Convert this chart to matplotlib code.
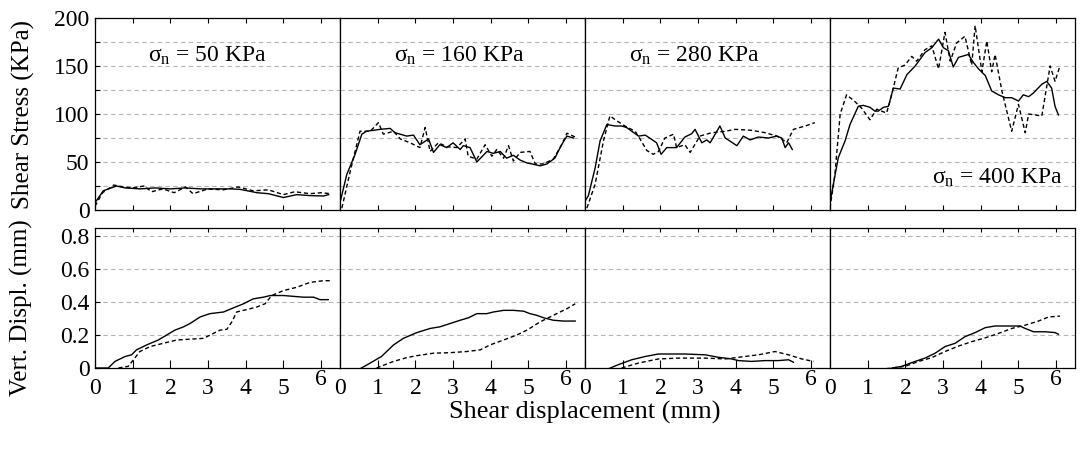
import matplotlib
matplotlib.use('Agg')
import matplotlib.pyplot as plt
from matplotlib.ticker import MultipleLocator, FixedLocator, FixedFormatter

plt.rcParams['font.family'] = ['Liberation Serif', 'DejaVu Serif']
plt.rcParams['mathtext.fontset'] = 'custom'
plt.rcParams['mathtext.rm'] = 'Liberation Serif'
plt.rcParams['mathtext.it'] = 'Liberation Serif:italic'

# ---------------- data ----------------
normal_stress = [50, 160, 280, 400]          # KPa
xtick_labels = ['0', '1', '2', '3', '4', '5', '6']

# Shear stress (KPa) vs shear displacement (mm); a = solid, b = dashed
tau50_a_x = [0, 0.22, 0.57, 0.8, 1.2, 1.6, 2.0, 2.4, 2.8, 3.2, 3.6, 3.85, 4.3, 4.6, 5.0, 5.35, 5.7, 6.06, 6.2]
tau50_a_y = [7.6, 20, 25, 23, 22, 23, 22, 23, 22, 22, 22, 21.5, 18, 17, 13, 16, 15, 14.6, 16]
tau50_b_x = [0, 0.2, 0.5, 0.75, 1.0, 1.3, 1.5, 1.8, 2.1, 2.4, 2.6, 3.0, 3.4, 3.8, 4.2, 4.6, 5.0, 5.3, 5.7, 6.0, 6.25]
tau50_b_y = [4, 18, 26, 24, 23, 25, 19, 22, 18, 24, 17, 22, 21, 24, 20, 21, 16, 19, 17, 18, 17]

tau160_a_x = [0, 0.18, 0.4, 0.58, 0.7, 1.06, 1.33, 1.46, 1.77, 1.95, 2.12, 2.35, 2.48, 2.65, 2.83, 3.0, 3.19,
              3.27, 3.45, 3.63, 3.9, 4.07, 4.25, 4.42, 4.6, 4.78, 4.96, 5.09, 5.31, 5.49, 5.7, 5.88, 6.02, 6.19]
tau160_a_y = [7.6, 37, 58, 79, 82, 84, 85, 80.5, 77, 78, 68, 74, 60, 68, 65, 70, 63,
              67, 65, 50, 61, 59, 61, 54, 57, 52, 49, 48, 46, 48, 54, 68, 77, 75]
tau160_b_x = [0.05, 0.27, 0.53, 0.8, 1.02, 1.15, 1.42, 1.6, 1.86, 2.12, 2.26, 2.39, 2.61, 2.83, 3.1, 3.32, 3.4,
              3.63, 3.85, 4.03, 4.16, 4.34, 4.47, 4.6, 4.78, 5.04, 5.18, 5.4, 5.66, 5.88, 6.02, 6.24]
tau160_b_y = [2, 40, 82, 82, 91, 79, 82, 74, 70, 65, 86, 61, 70, 66, 65, 74, 56,
              53, 68, 56, 63, 54, 67, 51, 60, 61, 48, 48, 53, 68, 80, 76]

tau280_a_x = [0, 0.09, 0.27, 0.4, 0.58, 0.8, 0.97, 1.1, 1.42, 1.6, 1.9, 2.02, 2.17, 2.43, 2.65, 2.83, 2.92,
              3.1, 3.23, 3.32, 3.58, 3.72, 4.03, 4.2, 4.38, 4.6, 4.87, 5.09, 5.22, 5.31, 5.4, 5.5]
tau280_a_y = [9, 15, 44, 72, 89, 87.5, 87.5, 86, 77, 78, 70, 58, 65, 65, 76, 79.5, 84,
              70, 73, 70, 87.5, 75, 67, 77, 73, 76, 75, 77, 75, 65, 70, 63]
tau280_b_x = [0.05, 0.27, 0.49, 0.66, 0.84, 1.06, 1.33, 1.46, 1.64, 1.81, 1.95, 2.12, 2.35, 2.43, 2.65, 2.79,
              3.05, 3.36, 3.72, 3.98, 4.42, 4.78, 5.09, 5.22, 5.35, 5.53, 5.84, 6.1]
tau280_b_y = [2, 27, 72, 98, 93, 87.5, 82, 74, 62, 58, 61, 75, 79, 65, 68, 60,
              77, 80.5, 82, 84, 83, 80.5, 77, 74, 70, 84, 87.5, 91]

tau400_a_x = [0, 0.09, 0.22, 0.4, 0.53, 0.75, 0.88, 1.06, 1.19, 1.28, 1.42, 1.55, 1.68, 1.86, 2.04, 2.26,
              2.52, 2.7, 2.88, 3.01, 3.14, 3.27, 3.41, 3.67, 3.8, 3.94, 4.12, 4.29, 4.47, 4.65, 4.82, 5.0,
              5.13, 5.27, 5.4, 5.62, 5.75, 5.88, 5.97, 6.06]
tau400_a_y = [7.6, 27, 54.5, 72, 89, 108, 109, 107, 103, 103, 107, 108, 127, 126, 141, 150,
              164, 169, 178, 169, 166, 149, 159, 162, 154, 147, 140, 124, 120, 117, 117, 113.5,
              120, 118, 122, 131, 134, 127, 108, 99]
tau400_b_x = [0, 0.13, 0.27, 0.44, 0.66, 0.84, 1.06, 1.24, 1.5, 1.59, 1.81, 1.99, 2.17, 2.3, 2.52, 2.7,
              2.88, 3.05, 3.19, 3.36, 3.58, 3.76, 3.85, 4.03, 4.16, 4.29, 4.38, 4.56, 4.82, 5.0, 5.18,
              5.27, 5.62, 5.84, 5.97, 6.1]
tau400_b_y = [2, 37, 100, 120, 113, 106, 94, 105, 101, 113, 148, 151, 160, 155, 167, 171,
              147, 185, 155, 174, 181, 151, 192, 144, 176, 144, 162, 124, 82, 110, 80.5,
              100, 98, 150, 134, 150]

# Vertical displacement (mm) vs shear displacement (mm); a = solid, b = dashed
vd50_a_x = [0, 0.35, 0.53, 0.8, 0.97, 1.1, 1.37, 1.68, 1.9, 2.12, 2.35, 2.52, 2.79, 3.05, 3.41, 3.67,
            3.94, 4.2, 4.47, 4.65, 5.0, 5.53, 5.8, 5.97, 6.19]
vd50_a_y = [0, 0, 0.04, 0.07, 0.08, 0.11, 0.14, 0.17, 0.2, 0.23, 0.25, 0.27, 0.31, 0.33, 0.34, 0.365,
            0.39, 0.42, 0.43, 0.44, 0.44, 0.43, 0.43, 0.415, 0.415]
vd50_b_x = [0.62, 0.88, 1.02, 1.19, 1.46, 1.81, 2.17, 2.52, 2.88, 3.14, 3.32, 3.5, 3.63, 3.76, 4.03, 4.29,
            4.51, 4.69, 5.0, 5.35, 5.71, 6.06, 6.24]
vd50_b_y = [0, 0.01, 0.05, 0.1, 0.13, 0.15, 0.17, 0.175, 0.18, 0.21, 0.23, 0.235, 0.28, 0.34, 0.355, 0.37,
            0.39, 0.44, 0.47, 0.49, 0.52, 0.53, 0.53]

vd160_a_x = [0, 0.53, 0.8, 1.1, 1.42, 1.68, 2.04, 2.39, 2.65, 2.92, 3.19, 3.41, 3.63, 3.89, 4.07, 4.34,
             4.6, 4.87, 5.04, 5.22, 5.4, 5.66, 5.93, 6.24]
vd160_a_y = [-0.005, -0.005, 0.03, 0.07, 0.14, 0.18, 0.215, 0.24, 0.25, 0.27, 0.29, 0.305, 0.33, 0.33, 0.34, 0.35,
             0.35, 0.345, 0.33, 0.32, 0.305, 0.29, 0.285, 0.285]
vd160_b_x = [0.97, 1.42, 1.77, 2.04, 2.48, 2.92, 3.36, 3.72, 3.98, 4.34, 4.69, 4.96, 5.31, 5.66, 6.02, 6.24]
vd160_b_y = [0, 0.04, 0.063, 0.075, 0.09, 0.093, 0.1, 0.11, 0.14, 0.17, 0.2, 0.23, 0.28, 0.32, 0.36, 0.39]

vd280_a_x = [0, 0.44, 0.62, 0.88, 1.24, 1.6, 1.95, 2.3, 2.65, 3.19, 3.54, 3.89, 4.07, 4.42, 4.78, 5.13, 5.4, 5.53]
vd280_a_y = [-0.005, -0.01, -0.005, 0.02, 0.05, 0.07, 0.085, 0.085, 0.085, 0.08, 0.065, 0.055, 0.045, 0.04,
             0.045, 0.045, 0.05, 0.035]
vd280_b_x = [0.97, 1.42, 1.95, 2.48, 3.19, 3.72, 4.07, 4.6, 5.04, 5.4, 5.75, 6.06]
vd280_b_y = [0, 0.03, 0.055, 0.06, 0.06, 0.055, 0.065, 0.08, 0.1, 0.08, 0.055, 0.04]

vd400_a_x = [0, 0.49, 1.02, 1.55, 1.9, 2.26, 2.52, 2.79, 3.05, 3.32, 3.58, 3.85, 4.12, 4.38, 4.82, 5.04,
             5.18, 5.4, 5.71, 5.97, 6.06]
vd400_a_y = [-0.005, -0.01, -0.01, -0.005, 0.01, 0.04, 0.06, 0.09, 0.13, 0.15, 0.19, 0.215, 0.245, 0.255, 0.255,
             0.255, 0.24, 0.22, 0.22, 0.215, 0.205]
vd400_b_x = [0, 0.75, 1.46, 1.99, 2.35, 2.7, 3.05, 3.41, 3.76, 4.12, 4.47, 4.82, 5.18, 5.53, 5.8, 6.1]
vd400_b_y = [-0.005, -0.007, -0.005, 0.01, 0.04, 0.063, 0.1, 0.133, 0.16, 0.183, 0.21, 0.24, 0.26, 0.285, 0.31, 0.315]

tau_solid = [(tau50_a_x, tau50_a_y), (tau160_a_x, tau160_a_y), (tau280_a_x, tau280_a_y), (tau400_a_x, tau400_a_y)]
tau_dash = [(tau50_b_x, tau50_b_y), (tau160_b_x, tau160_b_y), (tau280_b_x, tau280_b_y), (tau400_b_x, tau400_b_y)]
vd_solid = [(vd50_a_x, vd50_a_y), (vd160_a_x, vd160_a_y), (vd280_a_x, vd280_a_y), (vd400_a_x, vd400_a_y)]
vd_dash = [(vd50_b_x, vd50_b_y), (vd160_b_x, vd160_b_y), (vd280_b_x, vd280_b_y), (vd400_b_x, vd400_b_y)]

# ---------------- figure ----------------
W, H = 1080, 454
fig = plt.figure(figsize=(W / 100, H / 100), dpi=100)

FS = 17
FS_LABEL = 18
panel_left = [95, 340, 585, 830]
panel_w = 245
grid_kw = dict(color='#b4b4b4', linestyle=(0, (4, 3)), linewidth=0.8)
dash_style = (0, (3, 2))

label_pos = [(2.98, 161, 'center', 'center'), (3.16, 161, 'center', 'center'),
             (2.9, 161, 'center', 'center'), (4.43, 34, 'center', 'center')]

for i in range(4):
    l = panel_left[i] / W
    w = panel_w / W
    ax_t = fig.add_axes([l, 1 - 210 / H, w, 192 / H])
    ax_b = fig.add_axes([l, 1 - 368 / H, w, 140 / H])

    # --- top: shear stress ---
    ax_t.plot(*tau_solid[i], color='black', lw=1.0)
    ax_t.plot(*tau_dash[i], color='black', lw=1.0, linestyle=dash_style)
    ax_t.set_xlim(0, 6.5)
    ax_t.set_ylim(0, 200)
    for g in [25, 50, 75, 100, 125, 150, 175]:
        ax_t.axhline(g, zorder=0, **grid_kw)
    ax_t.xaxis.set_major_locator(MultipleLocator(1))
    ax_t.yaxis.set_major_locator(MultipleLocator(25))
    ax_t.tick_params(axis='x', direction='in', top=True, bottom=True, length=3.5, width=0.8,
                     labelbottom=False)
    if i == 0:
        ax_t.tick_params(axis='y', direction='in', length=3.5, width=0.8, labelsize=FS, pad=4)
        ax_t.set_yticks([0, 25, 50, 75, 100, 125, 150, 175, 200])
        ax_t.set_yticklabels(['0', '', '50', '', '100', '', '150', '', '200'])
        ax_t.set_ylabel('Shear Stress (KPa)', fontsize=FS_LABEL)
        ax_t.yaxis.set_label_coords(-0.245, 0.5)
    else:
        ax_t.tick_params(axis='y', left=False, labelleft=False)
    x0, y0, ha, va = label_pos[i]
    ax_t.text(x0, y0, 'σ$_\\mathrm{n}$ = %d KPa' % normal_stress[i], fontsize=FS, ha=ha, va=va)

    # --- bottom: vertical displacement ---
    ax_b.plot(*vd_solid[i], color='black', lw=1.0)
    ax_b.plot(*vd_dash[i], color='black', lw=1.0, linestyle=dash_style)
    ax_b.set_xlim(0, 6.5)
    ax_b.set_ylim(0, 0.85)
    for g in [0.2, 0.4, 0.6, 0.8]:
        ax_b.axhline(g, zorder=0, **grid_kw)
    ax_b.xaxis.set_major_locator(FixedLocator([0, 1, 2, 3, 4, 5]))
    ax_b.xaxis.set_major_formatter(FixedFormatter(xtick_labels[:6]))
    ax_b.xaxis.set_minor_locator(FixedLocator([6]))
    ax_b.xaxis.set_minor_formatter(FixedFormatter(xtick_labels[6:]))
    ax_b.tick_params(axis='x', which='both', direction='in', top=False, bottom=True, length=6,
                     width=0.8, labelsize=FS)
    ax_b.tick_params(axis='x', which='major', pad=7)
    ax_b.tick_params(axis='x', which='minor', pad=1)
    sec = ax_b.secondary_xaxis('top')
    sec.set_xticks([1, 2, 3, 4, 5, 6])
    sec.tick_params(axis='x', direction='in', length=3, width=0.8, labeltop=False)
    if i == 0:
        ax_b.set_yticks([0, 0.2, 0.4, 0.6, 0.8])
        ax_b.set_yticklabels(['0', '0.2', '0.4', '0.6', '0.8'])
        ax_b.tick_params(axis='y', direction='in', length=3.5, width=0.8, labelsize=FS, pad=4)
        ax_b.set_ylabel('Vert. Displ. (mm)', fontsize=FS_LABEL)
        ax_b.yaxis.set_label_coords(-0.253, 0.43)
    else:
        ax_b.tick_params(axis='y', left=False, labelleft=False)

    for ax in (ax_t, ax_b):
        for s in ax.spines.values():
            s.set_linewidth(0.9)
    sec.spines['top'].set_visible(False)

fig.text(585 / W, 1 - 412 / H, 'Shear displacement (mm)', fontsize=19, ha='center', va='center')

fig.savefig('out.png', dpi=100)
